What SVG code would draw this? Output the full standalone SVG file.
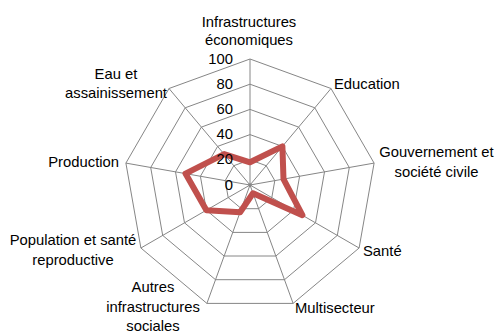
<svg xmlns="http://www.w3.org/2000/svg" width="495" height="333" viewBox="0 0 495 333">
<style>
.grid{fill:none;stroke:#868686;stroke-width:1}
.series{fill:none;stroke:#C0504D;stroke-width:6;stroke-linejoin:round}
text{font-family:"Liberation Sans",Arial,sans-serif;font-size:14.8px;fill:#000}
.mid{text-anchor:middle}
.end{text-anchor:end}
</style>
<rect width="495" height="333" fill="#fff"/>
<g id="grid">
<polygon class="grid" points="250,59 331.0,88.5 374.1,163.1 359.1,248.0 293.1,303.4 206.9,303.4 140.9,248.0 125.9,163.1 169.0,88.5"/>
<polygon class="grid" points="250,84.2 314.8,107.8 349.3,167.5 337.3,235.4 284.5,279.7 215.5,279.7 162.7,235.4 150.7,167.5 185.2,107.8"/>
<polygon class="grid" points="250,109.4 298.6,127.1 324.5,171.9 315.5,222.8 275.9,256.0 224.1,256.0 184.5,222.8 175.5,171.9 201.4,127.1"/>
<polygon class="grid" points="250,134.6 282.4,146.4 299.6,176.3 293.6,210.2 267.2,232.4 232.8,232.4 206.4,210.2 200.4,176.3 217.6,146.4"/>
<polygon class="grid" points="250,159.8 266.2,165.7 274.8,180.6 271.8,197.6 258.6,208.7 241.4,208.7 228.2,197.6 225.2,180.6 233.8,165.7"/>
<circle cx="250" cy="185" r="1.8" fill="#868686"/>
</g>
<g id="connectors">
<path class="grid" d="M250,185L250,59M250,185L331.0,88.5M250,185L374.1,163.1M250,185L359.1,248.0M250,185L293.1,303.4M250,185L206.9,303.4M250,185L140.9,248.0M250,185L125.9,163.1M250,185L169.0,88.5"/>
</g>
<g id="series">
<polygon class="series" points="250,162.3 282.4,146.4 283.5,179.1 302.4,215.2 253.0,193.3 240.1,212.2 206.4,210.2 185.5,173.6 224.1,154.1"/>
</g>
<g id="scale">
<text class="end" x="233" y="64">100</text>
<text class="end" x="233" y="89">80</text>
<text class="end" x="233" y="114">60</text>
<text class="end" x="233" y="139">40</text>
<text class="end" x="233" y="164">20</text>
<text class="end" x="233" y="190">0</text>
</g>
<g id="label-infra-eco"><text class="mid" x="249" y="27">Infrastructures</text><text class="mid" x="249" y="45">économiques</text></g>
<g id="label-education"><text x="334" y="89">Education</text></g>
<g id="label-gouv"><text class="mid" x="436.5" y="157">Gouvernement et</text><text class="mid" x="436.5" y="177">société civile</text></g>
<g id="label-sante"><text x="363" y="256">Santé</text></g>
<g id="label-multi"><text x="295" y="313">Multisecteur</text></g>
<g id="label-autres"><text class="mid" x="153" y="292">Autres</text><text class="mid" x="153" y="312">infrastructures</text><text class="mid" x="153" y="331">sociales</text></g>
<g id="label-pop"><text class="mid" x="73" y="245">Population et santé</text><text class="mid" x="73" y="265">reproductive</text></g>
<g id="label-prod"><text class="end" x="119" y="167">Production</text></g>
<g id="label-eau"><text class="mid" x="116" y="79">Eau et</text><text class="mid" x="116" y="98">assainissement</text></g>
</svg>
